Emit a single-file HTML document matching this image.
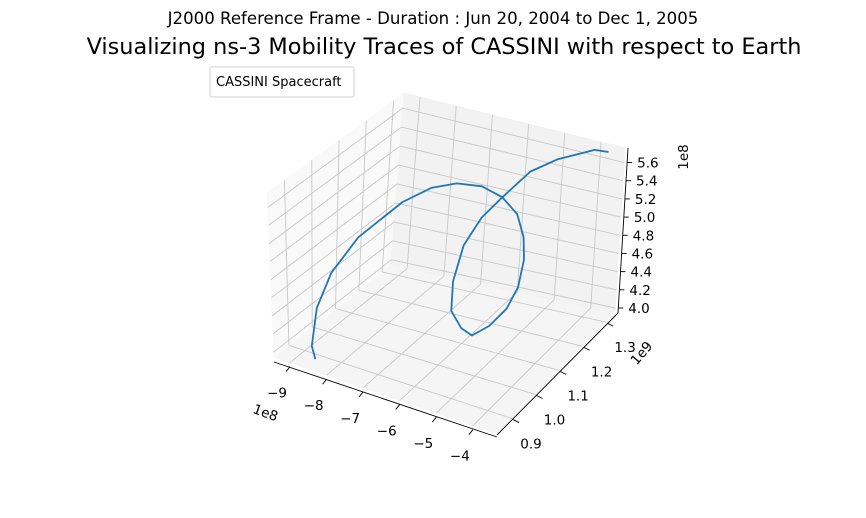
<!DOCTYPE html>
<html><head><meta charset="utf-8">
<style>
html,body{margin:0;padding:0;background:#fff;}
svg{display:block;font-family:"DejaVu Sans","Liberation Sans",sans-serif;}
</style></head>
<body>
<svg id="chart" width="866" height="518" viewBox="0 0 866 518" xmlns="http://www.w3.org/2000/svg">
<text x="433" y="24" font-size="16.6" text-anchor="middle" fill="#000">J2000 Reference Frame - Duration : Jun 20, 2004 to Dec 1, 2005</text>
<text x="444" y="54" font-size="22.4" text-anchor="middle" fill="#000">Visualizing ns-3 Mobility Traces of CASSINI with respect to Earth</text>
<g id="plot"></g>
<g>
<rect x="210" y="67" width="144" height="30" rx="2" fill="#fff" fill-opacity="0.8" stroke="#d0d0d0" stroke-width="1"/>
<text x="216" y="86" font-size="13" fill="#000">CASSINI Spacecraft</text>
</g>
</svg>
<script>
// data (x in 1e8, y in 1e9, z in 1e8)
const xs=[-8.63,-8.87,-8.94,-8.80,-8.40,-7.56,-7.07,-6.52,-5.94,-5.45,-5.06,-4.86,-4.79,-4.85,-5.05,-5.38,-5.71,-5.89,-6.11,-6.09,-5.90,-5.57,-5.23,-5.13,-4.67,-3.89,-3.60];
const ys=[0.885,0.909,0.943,0.982,1.030,1.078,1.117,1.136,1.150,1.160,1.165,1.165,1.160,1.150,1.136,1.117,1.097,1.078,1.068,1.068,1.078,1.097,1.126,1.223,1.261,1.295,1.305];
const zs=[3.94,3.995,4.331,4.652,4.985,5.362,5.482,5.549,5.549,5.460,5.306,5.075,4.850,4.567,4.342,4.164,4.071,4.178,4.365,4.689,5.085,5.381,5.569,5.618,5.702,5.798,5.780];
const xTicks=[-9,-8,-7,-6,-5,-4];
const yTicks=[0.9,1.0,1.1,1.2,1.3];
const zTicks=[4.0,4.2,4.4,4.6,4.8,5.0,5.2,5.4,5.6];
const xLabels=["\u22129","\u22128","\u22127","\u22126","\u22125","\u22124"];
const yLabels=["0.9","1.0","1.1","1.2","1.3"];
const zLabels=["4.0","4.2","4.4","4.6","4.8","5.0","5.2","5.4","5.6"];

const XMIN=-9.44,XMAX=-3.34,YMIN=0.836,YMAX=1.338,ZMIN=3.945,ZMAX=5.76;
const ux=x=>(x-XMIN)/(XMAX-XMIN), vy=y=>(y-YMIN)/(YMAX-YMIN), wz=z=>(z-ZMIN)/(ZMAX-ZMIN);
const P00=[274,357],P10=[497,434],P01=[391,265],P11=[615,313];
const E00=[-7,-164],E10=[6,-163],E01=[13,-172],E11=[10,-165];
function bil(a,b,c,d,u,v,i){return a[i]*(1-u)*(1-v)+b[i]*u*(1-v)+c[i]*(1-u)*v+d[i]*u*v;}
function proj(u,v,w){return [bil(P00,P10,P01,P11,u,v,0)+bil(E00,E10,E01,E11,u,v,0)*w, bil(P00,P10,P01,P11,u,v,1)+bil(E00,E10,E01,E11,u,v,1)*w];}
const NS="http://www.w3.org/2000/svg";
const g=document.getElementById('plot');
function mk(tag,attrs){const e=document.createElementNS(NS,tag);for(const k in attrs)e.setAttribute(k,attrs[k]);g.appendChild(e);return e;}
function pts(a){return a.map(p=>p[0].toFixed(1)+','+p[1].toFixed(1)).join(' ');}
let e;
e=mk('polygon',{points:pts([proj(0,0,0),proj(1,0,0),proj(1,1,0),proj(0,1,0)]),fill:'#f5f5f5',stroke:'#f5f5f5'});


e=mk('polygon',{points:pts([proj(0,0,0),proj(0,1,0),proj(0,1,1),proj(0,0,1)]),fill:'#f9f9f9',stroke:'#f9f9f9'});


e=mk('polygon',{points:pts([proj(0,1,0),proj(1,1,0),proj(1,1,1),proj(0,1,1)]),fill:'#f2f2f2',stroke:'#f2f2f2'});


function line(a,b,col,w,name){const l=mk('line',{x1:a[0],y1:a[1],x2:b[0],y2:b[1],stroke:col,'stroke-width':w});


return l;}
xTicks.forEach(t=>{const u=ux(t);line(proj(u,0,0),proj(u,1,0),'#c8c8c8',0.9,'x-grid-line');line(proj(u,1,0),proj(u,1,1),'#c8c8c8',0.9,'x-grid-line');});
yTicks.forEach(t=>{const v=vy(t);line(proj(0,v,0),proj(1,v,0),'#c8c8c8',0.9,'y-grid-line');line(proj(0,v,0),proj(0,v,1),'#c8c8c8',0.9,'y-grid-line');});
zTicks.forEach(t=>{const w=wz(t);line(proj(0,0,w),proj(0,1,w),'#c8c8c8',0.9,'z-grid-line');line(proj(0,1,w),proj(1,1,w),'#c8c8c8',0.9,'z-grid-line');});
line([P00[0],P00[1]+5],[P10[0],P10[1]+3],'#000',0.9,'x-axis-line');
line([P10[0],P10[1]+1],[P11[0]+3,P11[1]],'#000',0.9,'y-axis-line');
line([P11[0]+3,P11[1]],[P11[0]+3+E11[0],P11[1]+E11[1]],'#000',0.9,'z-axis-line');
function txt(x,y,s,size,name,anchor,rot){const t=mk('text',{x:x,y:y,'font-size':size,'text-anchor':anchor||'middle',fill:'#000'});
if(rot)t.setAttribute('transform','rotate('+rot+' '+x+' '+y+')');
t.textContent=s;


return t;}
xTicks.forEach((t,i)=>{const p=proj(ux(t),0,0);line([p[0],p[1]+4],[p[0]-4,p[1]+9],'#000',0.9,'x-tick');txt(p[0]-13,p[1]+35,xLabels[i],13.5,'x-tick-label');});
yTicks.forEach((t,i)=>{const p=proj(1,vy(t),0);line([p[0]+1,p[1]+1],[p[0]+7,p[1]+4],'#000',0.9,'y-tick');txt(p[0]+19,p[1]+30,yLabels[i],13.5,'y-tick-label');});
zTicks.forEach((t,i)=>{const p=proj(1,1,wz(t));line([p[0]+3,p[1]],[p[0]+8,p[1]],'#000',0.9,'z-tick');txt(p[0]+13,p[1]+5,zLabels[i],13.5,'z-tick-label','start');});
txt(264,417,'1e8',13.5,'x-offset-label','middle',20);
txt(645,356,'1e9',13.5,'y-offset-label','middle',-50);
txt(688,157,'1e8',13.5,'z-offset-label','middle',-90);
const path=xs.map((x,i)=>proj(ux(x),vy(ys[i]),wz(zs[i])));
e=mk('polyline',{points:pts(path),fill:'none',stroke:'#1f77b4','stroke-width':1.8,'stroke-linejoin':'round','stroke-linecap':'square'});


</script>
</body></html>
